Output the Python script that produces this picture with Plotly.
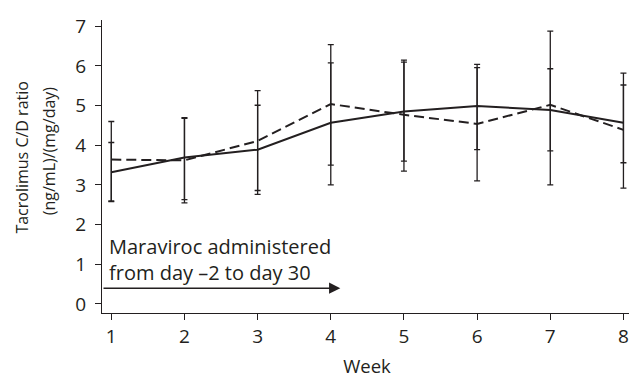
import plotly.graph_objects as go

weeks = [1, 2, 3, 4, 5, 6, 7, 8]

# Solid line series (mean, upper, lower)
solid_mean = [3.32, 3.69, 3.89, 4.57, 4.85, 4.99, 4.89, 4.57]
solid_upper = [4.07, 4.68, 5.01, 6.08, 6.10, 6.04, 5.93, 5.52]
solid_lower = [2.58, 2.63, 2.76, 3.00, 3.60, 3.89, 3.86, 3.56]

# Dashed line series (mean, upper, lower)
dashed_mean = [3.64, 3.62, 4.11, 5.04, 4.77, 4.54, 5.02, 4.39]
dashed_upper = [4.60, 4.70, 5.38, 6.54, 6.15, 5.96, 6.88, 5.82]
dashed_lower = [2.60, 2.55, 2.86, 3.50, 3.35, 3.10, 3.00, 2.92]

y_ticks = [0, 1, 2, 3, 4, 5, 6, 7]

INK = "#231f20"
FONT = "Open Sans"

def err(mean, upper, lower):
    return dict(
        type="data", symmetric=False,
        array=[u - m for u, m in zip(upper, mean)],
        arrayminus=[m - l for m, l in zip(mean, lower)],
        color=INK, thickness=1.3, width=3,
    )

fig = go.Figure()
fig.add_trace(go.Scatter(
    x=weeks, y=dashed_mean, mode="lines",
    line=dict(color=INK, width=2, dash="10px,5px"),
    error_y=err(dashed_mean, dashed_upper, dashed_lower),
    showlegend=False,
))
fig.add_trace(go.Scatter(
    x=weeks, y=solid_mean, mode="lines",
    line=dict(color=INK, width=2),
    error_y=err(solid_mean, solid_upper, solid_lower),
    showlegend=False,
))

# Maraviroc arrow
fig.add_annotation(
    x=4.13, y=0.395, ax=0.873, ay=0.395,
    xref="x", yref="y", axref="x", ayref="y",
    text="", showarrow=True, arrowhead=2, arrowsize=1.5,
    arrowwidth=1.5, arrowcolor=INK,
)
fig.add_annotation(
    x=0.94, y=1.12, xref="x", yref="y",
    text="Maraviroc administered<br>from day \u20132 to day 30",
    showarrow=False, xanchor="left", yanchor="middle", align="left",
    font=dict(family=FONT, size=20, color=INK),
)
# y-axis title (two lines)
fig.add_annotation(
    x=-0.150, y=0.532, xref="paper", yref="paper",
    text="Tacrolimus C/D ratio",
    textangle=-90, showarrow=False, xanchor="center", yanchor="middle",
    font=dict(family=FONT, size=16, color=INK),
)
fig.add_annotation(
    x=-0.100, y=0.552, xref="paper", yref="paper",
    text="(ng/mL)/(mg/day)",
    textangle=-90, showarrow=False, xanchor="center", yanchor="middle",
    font=dict(family=FONT, size=16, color=INK),
)

fig.update_layout(
    width=637, height=378,
    margin=dict(l=94, r=13, t=5, b=73),
    plot_bgcolor="white", paper_bgcolor="white",
    font=dict(family=FONT, size=19, color=INK),
    xaxis=dict(
        range=[0.873, 8.117], tickvals=weeks, showgrid=False, zeroline=False,
        showline=True, linecolor=INK, linewidth=1.4,
        ticks="outside", ticklen=6, tickcolor=INK, tickwidth=1.4,
        ticklabeloverflow="allow",
        title=dict(text="Week", standoff=12, font=dict(size=18.5)),
    ),
    yaxis=dict(
        range=[-0.23, 7.16], tickvals=y_ticks, showgrid=False, zeroline=False,
        showline=True, linecolor=INK, linewidth=1.4,
        ticks="outside", ticklen=6, tickcolor=INK, tickwidth=1.4,
        ticklabelstandoff=5, ticklabeloverflow="allow",
    ),
)

fig.write_html("out.html")
